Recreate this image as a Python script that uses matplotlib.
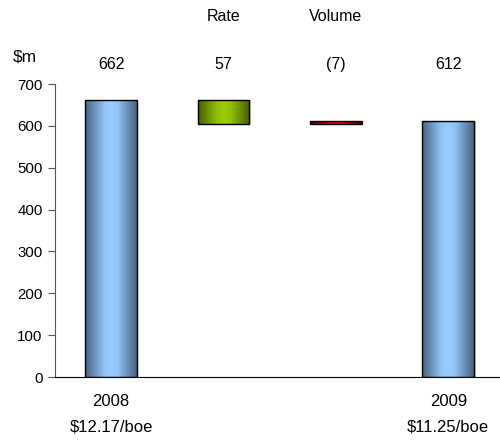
import matplotlib

matplotlib.use("Agg")
import matplotlib.pyplot as plt
import numpy as np
from matplotlib.colors import LinearSegmentedColormap

plt.rcParams["font.family"] = ["Liberation Sans", "DejaVu Sans"]

# waterfall: 2008 cost -> rate / volume effects -> 2009 cost
steps = ["2008", "Rate", "Volume", "2009"]
bar_bottom = [0, 605, 605, 0]
bar_top = [662, 662, 612, 612]
value_text = ["662", "57", "(7)", "612"]
top_labels = ["", "Rate", "Volume", ""]
year_labels = ["2008", "", "", "2009"]
unit_cost = ["\\$12.17/boe", "", "", "\\$11.25/boe"]
yticks = [0, 100, 200, 300, 400, 500, 600, 700]

# edge -> centre -> edge shading for the cylinder look
shades = {
    "blue": [(0, "#46627f"), (0.38, "#92c6f8"), (0.5, "#99ccff"), (0.62, "#92c6f8"), (1, "#46627f")],
    "green": [(0, "#465c00"), (0.38, "#92c400"), (0.5, "#99cc00"), (0.62, "#92c400"), (1, "#465c00")],
    "red": [(0, "#500000"), (0.38, "#f00000"), (0.5, "#ff0000"), (0.62, "#f00000"), (1, "#500000")],
}
bar_shade = ["blue", "green", "red", "blue"]

fig = plt.figure(figsize=(5.0, 4.41), dpi=100)
ax = fig.add_axes([0.11, 0.1451, 0.89, 0.6644])

x = np.arange(len(steps))
width = 0.46
grad = np.linspace(0, 1, 256).reshape(1, -1)
for i in x:
    lo, hi = bar_bottom[i], bar_top[i]
    cmap = LinearSegmentedColormap.from_list(bar_shade[i], shades[bar_shade[i]])
    # faint drop shadow on the right edge
    ax.bar(i + 0.012, hi - lo, bottom=lo, width=width, color="#c8c8c8", zorder=1)
    rect = ax.bar(i, hi - lo, bottom=lo, width=width, facecolor="none",
                  edgecolor="black", linewidth=1.0, zorder=3)[0]
    img = ax.imshow(grad, cmap=cmap, aspect="auto", zorder=2,
                    extent=(i - width / 2, i + width / 2, lo, hi))
    img.set_clip_path(rect)

ax.set_xlim(-0.5, 3.46)
ax.set_ylim(0, 700)
ax.set_yticks(yticks)
ax.set_xticks([])
ax.tick_params(axis="y", direction="out", length=5, width=0.8, labelsize=10.8,
               pad=4, color="#555555")
for s in ["top", "right"]:
    ax.spines[s].set_visible(False)
ax.spines["left"].set_color("#555555")
ax.spines["bottom"].set_color("black")

tf = ax.get_xaxis_transform()
for i in x:
    ax.text(i, 1.068, value_text[i], transform=tf, ha="center", va="center", fontsize=11.5)
    if top_labels[i]:
        ax.text(i, 1.232, top_labels[i], transform=tf, ha="center", va="center", fontsize=11.5)
    if year_labels[i]:
        ax.text(i, -0.082, year_labels[i], transform=tf, ha="center", va="center", fontsize=12)
        ax.text(i, -0.171, unit_cost[i], transform=tf, ha="center", va="center", fontsize=12)
ax.text(-0.094, 1.092, "\\$m", transform=ax.transAxes, ha="left", va="center", fontsize=12.5)

fig.savefig("out.png", dpi=100)
